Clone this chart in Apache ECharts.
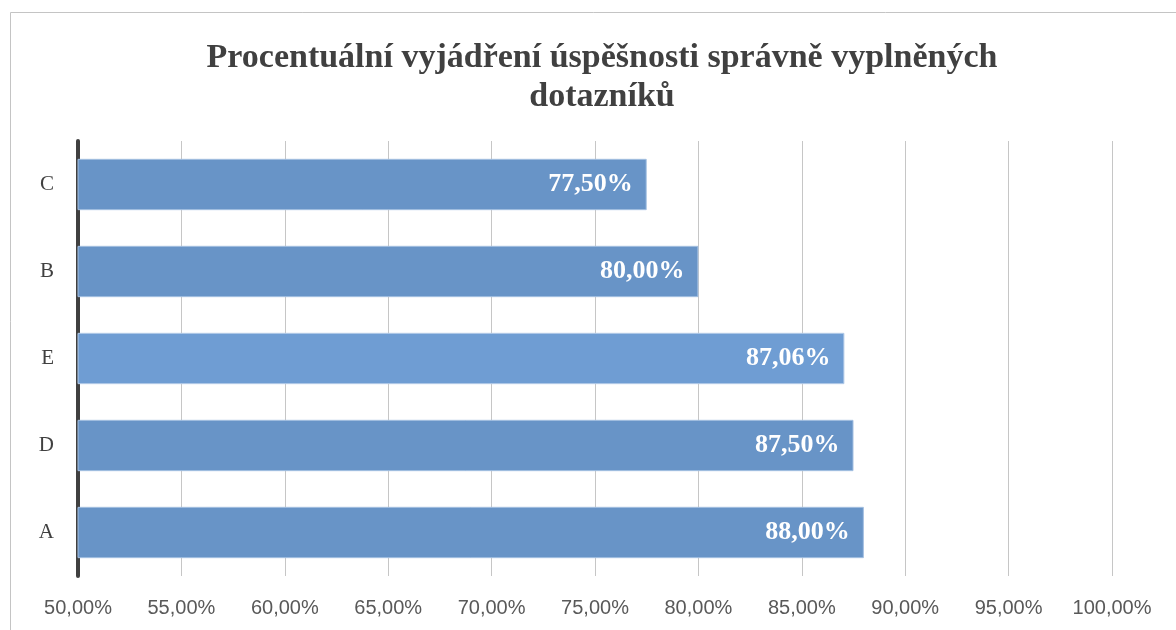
<!DOCTYPE html>
<html>
<head>
<meta charset="utf-8">
<script src="https://cdn.jsdelivr.net/npm/echarts@6/dist/echarts.min.js"></script>
<style>
  html, body { margin: 0; padding: 0; background: #fff; }
  #chart { width: 1176px; height: 630px; }
</style>
</head>
<body>
<div id="chart"></div>
<script>
// data, bottom to top
var categories = ['A', 'D', 'E', 'B', 'C'];
var values = [88.00, 87.50, 87.06, 80.00, 77.50];
var xTicks = { min: 50, max: 100, interval: 5 };

function pct(v) {
  return v.toFixed(2).replace('.', ',') + '%';
}

const chart = echarts.init(document.getElementById('chart'));
const option = {
  backgroundColor: '#fff',
  title: {
    text: 'Procentuální vyjádření úspěšnosti správně vyplněných\ndotazníků',
    left: 597,
    textAlign: 'center',
    top: 34,
    textStyle: {
      fontFamily: 'Liberation Serif',
      fontWeight: 'bold',
      fontSize: 34,
      lineHeight: 39,
      color: '#404040'
    }
  },
  graphic: [{
    type: 'rect',
    shape: { x: 10.5, y: 12.5, width: 1300, height: 800 },
    style: { fill: 'none', stroke: '#c4c4c4', lineWidth: 1 },
    silent: true
  }],
  grid: { left: 78, right: 64, top: 141, bottom: 54 },
  xAxis: {
    type: 'value',
    min: xTicks.min,
    max: xTicks.max,
    interval: xTicks.interval,
    axisLine: { show: false },
    axisTick: { show: false },
    splitLine: { show: true, lineStyle: { color: '#c6c6c6', width: 1 } },
    axisLabel: {
      margin: 22,
      fontFamily: 'Liberation Sans',
      fontSize: 20,
      color: '#595959',
      formatter: pct
    }
  },
  yAxis: {
    type: 'category',
    data: categories,
    axisLine: { show: true, lineStyle: { color: '#404040', width: 4 } },
    axisTick: { show: false },
    axisLabel: {
      margin: 24,
      fontFamily: 'Liberation Serif',
      fontSize: 21,
      color: '#404040'
    }
  },
  series: [{
    type: 'bar',
    data: values.map(function (v, i) {
      var item = { value: v };
      if (categories[i] === 'E') {
        item.itemStyle = { color: '#6f9dd3', borderColor: '#b3cbe8' };
      }
      return item;
    }),
    barCategoryGap: '41%',
    itemStyle: { color: '#6894c7', borderColor: '#a3bfe1', borderWidth: 1 },
    label: {
      show: true,
      position: 'insideRight',
      distance: 14,
      fontFamily: 'Liberation Serif',
      fontWeight: 'bold',
      fontSize: 26,
      color: '#fff',
      formatter: function (p) { return pct(p.value); }
    }
  }]
};
chart.setOption(option);
</script>
</body>
</html>
